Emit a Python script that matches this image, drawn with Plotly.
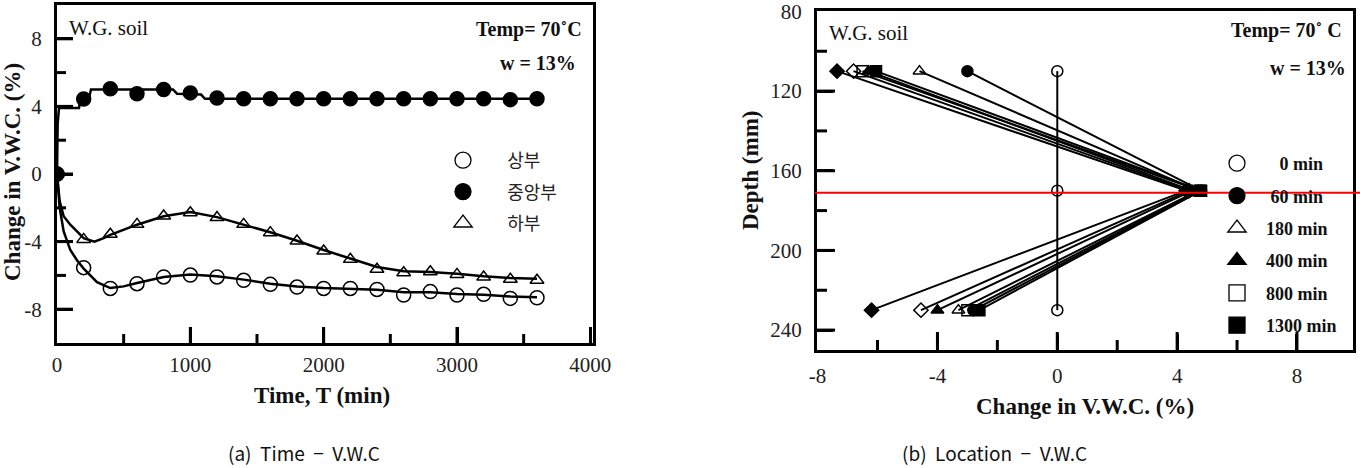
import plotly.graph_objects as go

W, H = 1360, 468

# ---------------- (a) Time - V.W.C ----------------
time_pts = [0, 200, 400, 600, 800, 1000, 1200, 1400, 1600, 1800, 2000,
            2200, 2400, 2600, 2800, 3000, 3200, 3400, 3600]
upper_vwc = [0, -5.54, -6.77, -6.49, -6.09, -5.98, -6.09, -6.29, -6.53, -6.69, -6.77,
             -6.77, -6.83, -7.16, -6.96, -7.16, -7.12, -7.36, -7.32]
middle_vwc = [0, 4.44, 5.05, 4.75, 5.0, 4.8, 4.5, 4.45, 4.45, 4.45, 4.45,
              4.45, 4.45, 4.45, 4.45, 4.45, 4.45, 4.4, 4.45]
lower_vwc = [0, -3.87, -3.57, -2.98, -2.49, -2.29, -2.58, -2.98, -3.47, -3.96, -4.56,
             -5.05, -5.64, -5.84, -5.78, -5.94, -6.1, -6.23, -6.29]

upper_line_t = [0, 20, 50, 100, 150, 200, 300, 400, 500, 600, 800, 1000, 1200, 1400,
                1600, 1800, 2000, 2200, 2400, 2600, 2800, 3000, 3200, 3400, 3600]
upper_line_v = [0, -2.0, -3.4, -4.5, -5.1, -5.6, -6.4, -6.75, -6.65, -6.45, -6.1, -5.95,
                -6.05, -6.25, -6.5, -6.65, -6.75, -6.8, -6.85, -7.0, -7.0, -7.1, -7.15,
                -7.25, -7.3]
middle_line_t = [0, 5, 15, 165, 175, 240, 255, 870, 900, 1080, 1110, 3600]
middle_line_v = [0, 3.0, 3.9, 3.9, 4.45, 4.5, 5.0, 5.0, 4.75, 4.7, 4.45, 4.45]
lower_line_t = [0, 20, 50, 100, 150, 200, 280, 350, 400, 600, 800, 1000, 1200, 1400,
                1600, 1800, 2000, 2200, 2400, 2600, 2800, 3000, 3200, 3400, 3600]
lower_line_v = [0, -1.6, -2.5, -3.0, -3.4, -3.8, -4.0, -3.8, -3.6, -3.0, -2.5, -2.25,
                -2.55, -3.0, -3.45, -3.95, -4.5, -5.0, -5.5, -5.75, -5.8, -5.9, -6.05,
                -6.15, -6.2]

series_a_names = ["상부", "중앙부", "하부"]
a_xticks = [0, 1000, 2000, 3000, 4000]
a_xminor = [500, 1500, 2500, 3500]
a_yticks = [-8, -4, 0, 4, 8]
a_yminor = [-6, -2, 2, 6]
A_XRANGE = [0, 4020]
A_YRANGE = [-10, 10]

# ---------------- (b) Location - V.W.C ----------------
depths = [110, 170, 230]
vwc_0 = [0, 0, 0]
vwc_60 = [-3.0, 4.8, -2.8]
vwc_180 = [-4.6, 4.7, -3.3]
vwc_400 = [-6.3, 4.5, -4.0]
vwc_800 = [-6.5, 4.75, -3.0]
vwc_1300 = [-6.05, 4.8, -2.6]
vwc_diam_f = [-7.35, 4.3, -6.2]
vwc_diam_o = [-6.8, 4.4, -4.55]
red_line_depth = 171
b_xticks = [-8, -4, 0, 4, 8]
b_xminor = [-6, -2, 2, 6]
b_yticks = [80, 120, 160, 200, 240]
b_yminor = [100, 140, 180, 220]
B_XRANGE = [-8.02, 9.87]
B_YRANGE = [250, 79.8]

SERIF = "Liberation Serif"
KR = "Noto Sans CJK KR"

# plot-area pixel boxes (left, top, right, bottom)
BOX_A = (57, 5, 593, 343)
BOX_B = (817, 11, 1353, 350)


def px_x(p):
    return p / W


def px_y(p):
    return 1 - p / H


def lab(v):
    return str(v)


fig = go.Figure()


# --- inside tick marks drawn as line traces, positioned by each axis' tick lists
def tick_trace(xvals_major, xvals_minor, yvals_major, yvals_minor, box, xr, yr,
               xaxis, yaxis, maj_len, min_len):
    xs, ys = [], []
    yspan = (yr[1] - yr[0]) / (box[3] - box[1])
    xspan = (xr[1] - xr[0]) / (box[2] - box[0])
    for vals, ln in ((xvals_major, maj_len), (xvals_minor, min_len)):
        for v in vals:
            xs += [v, v, None]
            ys += [yr[0], yr[0] + ln * yspan, None]
    for vals, ln in ((yvals_major, maj_len), (yvals_minor, min_len)):
        for v in vals:
            xs += [xr[0], xr[0] + ln * xspan, None]
            ys += [v, v, None]
    fig.add_trace(go.Scatter(x=xs, y=ys, mode="lines", line=dict(color="black", width=3),
                             showlegend=False, hoverinfo="skip", cliponaxis=False,
                             xaxis=xaxis, yaxis=yaxis))


tick_trace(a_xticks[1:-1], a_xminor, a_yticks, a_yminor, BOX_A, A_XRANGE, A_YRANGE,
           "x", "y", 16, 9)
tick_trace(b_xticks[1:], b_xminor, b_yticks[1:], b_yminor, BOX_B, B_XRANGE, B_YRANGE,
           "x2", "y2", 18, 10)

# --- left: lines
for t, v in [(upper_line_t, upper_line_v), (middle_line_t, middle_line_v),
             (lower_line_t, lower_line_v)]:
    fig.add_trace(go.Scatter(x=t, y=v, mode="lines", line=dict(color="black", width=2.5),
                             showlegend=False, xaxis="x", yaxis="y", hoverinfo="skip"))
# --- left: markers
sym_a = ["circle-open", "circle", "triangle-up-open"]
for vals, sym in zip([upper_vwc, middle_vwc, lower_vwc], sym_a):
    fig.add_trace(go.Scatter(x=time_pts, y=vals, mode="markers",
                             marker=dict(symbol=sym, size=14 if "circle" in sym else 12,
                                         color="black", line=dict(color="black", width=1.5)),
                             showlegend=False, xaxis="x", yaxis="y"))
# --- left legend entries
for i, (name, sym) in enumerate(zip(series_a_names, sym_a)):
    fig.add_trace(go.Scatter(x=[None], y=[None], mode="markers", name="\u00a0" * 6 + name,
                             marker=dict(symbol=sym, size=22, color="black",
                                         line=dict(color="black", width=1.3)),
                             legend="legend", legendgroup=f"a{i}",
                             xaxis="x", yaxis="y"))

# --- right: series
b_series = [
    ("0 min", vwc_0, "circle-open", True),
    ("60 min", vwc_60, "circle", True),
    ("180 min", vwc_180, "triangle-up-open", True),
    ("400 min", vwc_400, "triangle-up", True),
    ("800 min", vwc_800, "square-open", True),
    ("1300 min", vwc_1300, "square", True),
    ("d1", vwc_diam_f, "diamond", False),
    ("d2", vwc_diam_o, "diamond-open", False),
]
for name, vals, sym, _ in b_series[::-1]:
    fig.add_trace(go.Scatter(x=vals, y=depths, mode="lines+markers",
                             line=dict(color="black", width=2),
                             marker=dict(symbol=sym, size=11, color="black",
                                         line=dict(color="black", width=1.5)),
                             showlegend=False, xaxis="x2", yaxis="y2"))
pads = {"0 min": 5, "60 min": 3, "180 min": 2, "400 min": 2, "800 min": 2, "1300 min": 2}
for i, (name, vals, sym, leg) in enumerate(b_series):
    if not leg:
        continue
    fig.add_trace(go.Scatter(x=[None], y=[None], mode="markers",
                             name="\u00a0" * pads[name] + name,
                             marker=dict(symbol=sym, size=22, color="black",
                                         line=dict(color="black", width=1.3)),
                             legend="legend2", legendgroup=f"b{i}",
                             xaxis="x2", yaxis="y2"))

axis_common = dict(showgrid=False, zeroline=False, ticks="inside", ticklen=16, tickwidth=3,
                   tickcolor="black", automargin=False,
                   showline=True, linewidth=3, linecolor="black", mirror=True,
                   ticklabeloverflow="allow",
                   tickfont=dict(family=SERIF, size=21, color="#222"))

fig.update_layout(
    width=W, height=H, margin=dict(l=0, r=0, t=0, b=0),
    paper_bgcolor="white", plot_bgcolor="white",
    xaxis=dict(domain=[px_x(BOX_A[0]), px_x(BOX_A[2])], range=A_XRANGE, tickmode="array",
               tickvals=a_xticks, ticktext=[lab(v) for v in a_xticks],
               anchor="y", ticklabelstandoff=1, **axis_common),
    yaxis=dict(domain=[px_y(BOX_A[3]), px_y(BOX_A[1])], range=A_YRANGE, tickmode="array",
               tickvals=a_yticks, ticktext=[lab(v) for v in a_yticks],
               anchor="x", ticklabelstandoff=8, **axis_common),
    xaxis2=dict(domain=[px_x(BOX_B[0]), px_x(BOX_B[2])], range=B_XRANGE, tickmode="array",
                tickvals=b_xticks, ticktext=[lab(v) for v in b_xticks],
                anchor="y2", ticklabelstandoff=5, **axis_common),
    yaxis2=dict(domain=[px_y(BOX_B[3]), px_y(BOX_B[1])], range=B_YRANGE, tickmode="array",
                tickvals=b_yticks, ticktext=[lab(v) for v in b_yticks],
                anchor="x2", ticklabelstandoff=8, **axis_common),
    legend=dict(x=px_x(443), y=px_y(142), xanchor="left", yanchor="top",
                bgcolor="rgba(0,0,0,0)", font=dict(family=KR, size=18, color="#222"),
                tracegroupgap=5, itemsizing="trace"),
    legend2=dict(x=px_x(1217), y=px_y(145), xanchor="left", yanchor="top",
                 bgcolor="rgba(0,0,0,0)",
                 font=dict(family=SERIF, size=18, color="#111", weight="bold"),
                 tracegroupgap=6, itemsizing="trace"),
)

fig.add_shape(type="line", xref="paper", yref="y2", x0=px_x(815), x1=1.0,
              y0=red_line_depth, y1=red_line_depth, opacity=1, layer="above",
              line=dict(color="#ff0000", width=2))

ann = []


def text(x, y, s, size, bold=False, family=SERIF, xanchor="center", angle=0, color="#111"):
    ann.append(dict(x=px_x(x), y=px_y(y), xref="paper", yref="paper", text=f"<b>{s}</b>" if bold else s,
                    showarrow=False, xanchor=xanchor, yanchor="middle", textangle=angle,
                    font=dict(family=family, size=size, color=color)))


text(67, 28, "W.G. soil", 21, xanchor="left")
text(584, 29, "Temp= 70˚C", 20, bold=True, xanchor="right")
text(578, 63, "w = 13%", 20, bold=True, xanchor="right")
text(827, 33, "W.G. soil", 21, xanchor="left")
text(1344, 31, "Temp= 70˚ C", 20, bold=True, xanchor="right")
text(1348, 68, "w = 13%", 20, bold=True, xanchor="right")
text(322, 395, "Time, T (min)", 23, bold=True)
text(12, 172, "Change in V.W.C. (%)", 23, bold=True, angle=-90)
text(1085, 406, "Change in V.W.C. (%)", 23, bold=True)
text(750, 171, "Depth (mm)", 23, bold=True, angle=-90)
text(304, 452, "(a)&nbsp; Time&nbsp; −&nbsp; V.W.C", 19, family=KR)
text(995, 452, "(b)&nbsp; Location&nbsp; −&nbsp; V.W.C", 19, family=KR)
fig.update_layout(annotations=ann)

fig.write_html("out.html")
